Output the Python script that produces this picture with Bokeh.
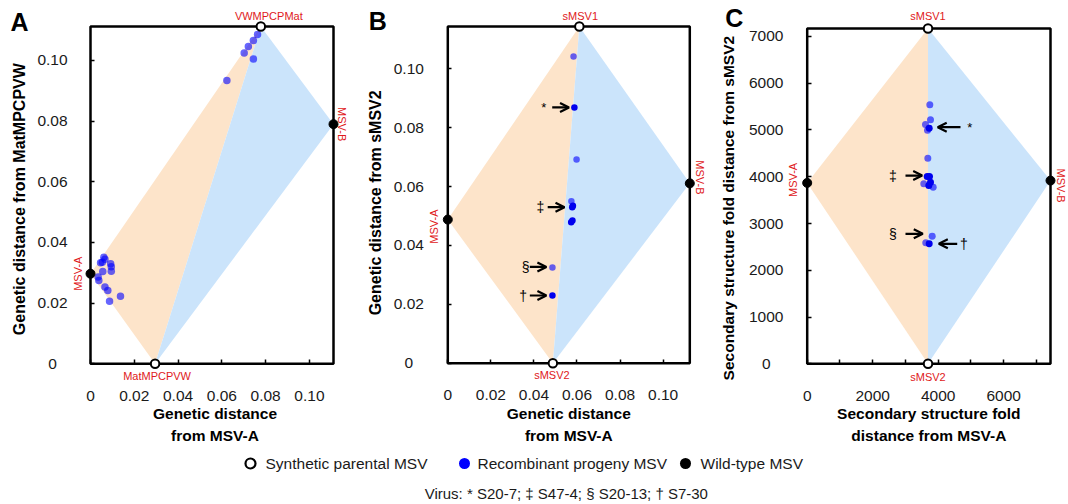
import math
from bokeh.plotting import figure
from bokeh.models import (Range1d, FixedTicker, Label, LabelSet, ColumnDataSource,
                          Arrow, OpenHead)
from bokeh.layouts import column, row
from bokeh.core.properties import value
from bokeh.embed import file_html
from bokeh.resources import INLINE

FONT = "Liberation Sans"
ORANGE = "#fde4ca"
LIGHTBLUE = "#cbe4fb"
RED = "#e0191b"
DOT = "#0000ff"

# ---------------- Panel A data ----------------
a_xmax, a_ymax = 0.111, 0.1112
a_node_x = [0.0, 0.1110, 0.0778, 0.0295]      # MSV-A, MSV-B, top parent, bottom parent
a_node_y = [0.0297, 0.0790, 0.1112, 0.0]
a_node_names = ["MSV-A", "MSV-B", "VWMPCPMat", "MatMPCPVW"]
a_pts_x = [0.0763, 0.0744, 0.0721, 0.0702, 0.0744, 0.0623, 0.0061, 0.0066, 0.0054, 0.0046,
           0.0092, 0.0095, 0.0056, 0.0035, 0.0038, 0.0066, 0.0079, 0.0137, 0.0087, 0.0095]
a_pts_y = [0.1086, 0.1066, 0.1046, 0.1025, 0.1005, 0.0934, 0.0351, 0.0345, 0.0335, 0.0333,
           0.0330, 0.0305, 0.0304, 0.0286, 0.0275, 0.0253, 0.0242, 0.0223, 0.0206, 0.0320]
a_pts_dark = [0] * 20
a_xticks = [0, 0.02, 0.04, 0.06, 0.08, 0.10]
a_xtick_labels = ["0", "0.02", "0.04", "0.06", "0.08", "0.10"]
a_yticks = [0, 0.02, 0.04, 0.06, 0.08, 0.10]
a_ytick_labels = ["0", "0.02", "0.04", "0.06", "0.08", "0.10"]
a_xlabel = ["Genetic distance", "from MSV-A"]
a_ylabel = "Genetic distance from MatMPCPVW"

# ---------------- Panel B data ----------------
b_xmax, b_ymax = 0.1124, 0.1144
b_node_x = [0.0, 0.1124, 0.0611, 0.0488]
b_node_y = [0.0488, 0.0611, 0.1144, 0.0]
b_node_names = ["MSV-A", "MSV-B", "sMSV1", "sMSV2"]
b_pts_x = [0.0584, 0.0588, 0.0598, 0.0574, 0.0578, 0.0581, 0.0573, 0.0579, 0.0486, 0.0486]
b_pts_y = [0.1042, 0.0869, 0.0692, 0.0550, 0.0530, 0.0535, 0.0479, 0.0485, 0.0325, 0.0230]
b_pts_dark = [0, 1, 0, 0, 1, 1, 1, 1, 0, 1]
b_xticks = [0, 0.02, 0.04, 0.06, 0.08, 0.10]
b_xtick_labels = ["0", "0.02", "0.04", "0.06", "0.08", "0.10"]
b_yticks = [0, 0.02, 0.04, 0.06, 0.08, 0.10]
b_ytick_labels = ["0", "0.02", "0.04", "0.06", "0.08", "0.10"]
b_xlabel = ["Genetic distance", "from MSV-A"]
b_ylabel = "Genetic distance from sMSV2"
# marked viruses: symbol, y, arrow start x, arrow end x, symbol x
b_mark_sym = ["*", "\u2021", "\u00a7", "\u2020"]
b_mark_y = [0.0869, 0.0530, 0.0327, 0.0230]
b_mark_x0 = [0.0485, 0.0464, 0.0381, 0.0381]
b_mark_x1 = [0.0563, 0.0542, 0.0458, 0.0458]
b_mark_tx = [0.0446, 0.0430, 0.0361, 0.0350]

# ---------------- Panel C data ----------------
c_xmax, c_ymax = 7431, 7170
c_node_x = [0.0, 7431, 3690, 3690]
c_node_y = [3868, 3918, 7170, 0.0]
c_node_names = ["MSV-A", "MSV-B", "sMSV1", "sMSV2"]
c_pts_x = [3745, 3766, 3613, 3726, 3674, 3684, 3665, 3735, 3561, 3766, 3714, 3848, 3818, 3622, 3726]
c_pts_y = [5538, 5217, 5117, 5037, 4995, 4396, 4005, 4005, 3849, 3883, 3812, 3776, 2728, 2587, 2566]
c_pts_dark = [0, 0, 0, 1, 0, 0, 1, 1, 0, 1, 1, 0, 0, 0, 1]
c_xticks = [0, 2000, 4000, 6000]
c_xminor = [1000, 3000, 5000, 7000]
c_xtick_labels = ["0", "2000", "4000", "6000"]
c_yticks = [0, 1000, 2000, 3000, 4000, 5000, 6000, 7000]
c_ytick_labels = ["0", "1000", "2000", "3000", "4000", "5000", "6000", "7000"]
c_xlabel = ["Secondary structure fold", "distance from MSV-A"]
c_ylabel = "Secondary structure fold distance from sMSV2"
c_mark_sym = ["*", "\u2021", "\u00a7", "\u2020"]
c_mark_y = [5059, 4026, 2780, 2566]
c_mark_x0 = [4682, 3002, 3002, 4582]
c_mark_x1 = [3986, 3512, 3530, 4020]
c_mark_tx = [4965, 2615, 2615, 4783]

legend_labels = ["Synthetic parental MSV", "Recombinant progeny MSV", "Wild-type MSV"]
virus_note = "Virus: * S20-7; \u2021 S47-4;  \u00a7  S20-13; \u2020 S7-30"

H = 444


def make_panel(fig_w, bl, bw, bt, bh, xmax, ymax):
    """Frame covers the whole canvas; the data box 0..xmax, 0..ymax sits at
    pixel rectangle (bl, bt, bw, bh) inside it."""
    u = xmax / bw
    v = ymax / bh
    p = figure(width=fig_w, height=H, output_backend="svg", toolbar_location=None, tools="",
               x_range=Range1d(-bl * u, (fig_w - bl) * u),
               y_range=Range1d(-(H - bt - bh) * v, ymax + bt * v),
               min_border=0)
    p.outline_line_color = None
    p.grid.visible = False
    p.background_fill_color = "white"
    p.border_fill_color = "white"
    return p


def style_axes(p, xticks, xlabels, yticks, ylabels, xminor=None, ytick_off=-38):
    p.xaxis.fixed_location = 0
    p.yaxis.fixed_location = 0
    p.xaxis.ticker = FixedTicker(ticks=xticks, minor_ticks=xminor or [])
    p.yaxis.ticker = FixedTicker(ticks=yticks, minor_ticks=[])
    p.xaxis.major_label_overrides = {t: s for t, s in zip(xticks, xlabels)}
    for ax in (p.xaxis, p.yaxis):
        ax.axis_line_color = None
        ax.major_tick_in = 4
        ax.major_tick_out = 0
        ax.minor_tick_in = 4
        ax.minor_tick_out = 0
        ax.major_tick_line_color = "black"
        ax.minor_tick_line_color = "black"
        ax.major_tick_line_width = 1.5
        ax.minor_tick_line_width = 1.5
    p.xaxis.major_label_text_font = FONT
    p.xaxis.major_label_text_font_size = "15.5px"
    p.xaxis.major_label_text_color = "#1a1a1a"
    p.xaxis.major_label_standoff = 27
    p.yaxis.major_label_text_color = None
    src = ColumnDataSource(dict(x=[0] * len(yticks), y=yticks, t=ylabels))
    p.add_layout(LabelSet(x="x", y="y", text="t", source=src, x_offset=ytick_off,
                          text_align="center", text_baseline="middle",
                          text_font=value(FONT), text_font_size=value("15.5px"),
                          text_color=value("#1a1a1a")))


def draw_content(p, xmax, ymax, nx, ny, px, py, dark, dot_size):
    p.patch([nx[0], nx[2], nx[3]], [ny[0], ny[2], ny[3]], fill_color=ORANGE, line_color=None)
    p.patch([nx[2], nx[1], nx[3]], [ny[2], ny[1], ny[3]], fill_color=LIGHTBLUE, line_color=None)
    p.quad(left=0, right=xmax, bottom=0, top=ymax, fill_color=None,
           line_color="black", line_width=2.5)
    lx = [x for x, d in zip(px, dark) if not d]
    ly = [y for y, d in zip(py, dark) if not d]
    dx = [x for x, d in zip(px, dark) if d]
    dy = [y for y, d in zip(py, dark) if d]
    p.scatter(lx, ly, size=dot_size, fill_color=DOT, fill_alpha=0.6, line_color=None)
    p.scatter(dx, dy, size=dot_size, fill_color="#0000ee", fill_alpha=1.0, line_color=None)
    p.scatter(nx[2:], ny[2:], size=8.5, fill_color="white", line_color="black", line_width=2)
    p.scatter(nx[:2], ny[:2], size=9, fill_color="black", line_color="black")


def node_labels(p, nx, ny, names, offs):
    for (x, y, n, (xo, yo, ang)) in zip(nx, ny, names, offs):
        p.add_layout(Label(x=x, y=y, text=n, x_offset=xo, y_offset=yo, angle=ang,
                           text_align="center", text_baseline="middle",
                           text_font=FONT, text_font_size="11px", text_color=RED))


def axis_titles(p, xmax, ymax, xlab, ylab, xl_dx, yl_dx, yl_dy, ysize, letter, let_dx, let_dy):
    for i, t in enumerate(xlab):
        p.add_layout(Label(x=xmax / 2, y=0, text=t, x_offset=xl_dx, y_offset=-50 - 22 * i,
                           text_align="center", text_baseline="middle", text_font=FONT,
                           text_font_size="15.5px", text_font_style="bold", text_color="black"))
    p.add_layout(Label(x=0, y=ymax / 2, text=ylab, x_offset=yl_dx, y_offset=yl_dy,
                       angle=math.pi / 2, text_align="center", text_baseline="middle",
                       text_font=FONT, text_font_size=ysize, text_font_style="bold",
                       text_color="black"))
    p.add_layout(Label(x=0, y=ymax, text=letter, x_offset=let_dx, y_offset=let_dy,
                       text_align="center", text_baseline="middle", text_font=FONT,
                       text_font_size="25px", text_font_style="bold", text_color="black"))


def marks(p, syms, ys, x0s, x1s, txs):
    for s, y, x0, x1, tx in zip(syms, ys, x0s, x1s, txs):
        p.add_layout(Arrow(end=OpenHead(size=9, line_width=2.2, line_color="black"),
                           x_start=x0, y_start=y, x_end=x1, y_end=y,
                           line_width=2.2, line_color="black"))
        p.add_layout(Label(x=tx, y=y, text=s, text_align="center", text_baseline="middle",
                           text_font=FONT, text_font_size="14px" if s != "*" else "13px",
                           text_color="black"))


HALF = math.pi / 2

# ---- Panel A ----
pA = make_panel(354, 90, 243, 26, 337.3, a_xmax, a_ymax)
style_axes(pA, a_xticks, a_xtick_labels, a_yticks, a_ytick_labels, ytick_off=-38)
draw_content(pA, a_xmax, a_ymax, a_node_x, a_node_y, a_pts_x, a_pts_y, a_pts_dark, 7.5)
node_labels(pA, a_node_x, a_node_y, a_node_names,
            [(-13, 0, HALF), (8, 0, -HALF), (8, 11, 0), (2, -12, 0)])
axis_titles(pA, a_xmax, a_ymax, a_xlabel, a_ylabel, 3, -71, -4, "16px", "A", -71, 5)

# ---- Panel B ----
pB = make_panel(352, 93.3, 242, 26, 336.7, b_xmax, b_ymax)
style_axes(pB, b_xticks, b_xtick_labels, b_yticks, b_ytick_labels, ytick_off=-39)
draw_content(pB, b_xmax, b_ymax, b_node_x, b_node_y, b_pts_x, b_pts_y, b_pts_dark, 6.5)
node_labels(pB, b_node_x, b_node_y, b_node_names,
            [(-14, -7, HALF), (10, 6, -HALF), (1, 11, 0), (-1, -12, 0)])
marks(pB, b_mark_sym, b_mark_y, b_mark_x0, b_mark_x1, b_mark_tx)
axis_titles(pB, b_xmax, b_ymax, b_xlabel, b_ylabel, 0, -72, -8, "16px", "B", -70, 6)

# ---- Panel C ----
pC = make_panel(362, 100.7, 243.3, 28, 335.3, c_xmax, c_ymax)
style_axes(pC, c_xticks, c_xtick_labels, c_yticks, c_ytick_labels, xminor=c_xminor, ytick_off=-41)
draw_content(pC, c_xmax, c_ymax, c_node_x, c_node_y, c_pts_x, c_pts_y, c_pts_dark, 7)
node_labels(pC, c_node_x, c_node_y, c_node_names,
            [(-14, 3, HALF), (10, -5, -HALF), (0, 13, 0), (0, -13, 0)])
marks(pC, c_mark_sym, c_mark_y, c_mark_x0, c_mark_x1, c_mark_tx)
axis_titles(pC, c_xmax, c_ymax, c_xlabel, c_ylabel, 0, -79, -12, "15.5px", "C", -73, 11)

# ---- Legend strip ----
lg = figure(width=1068, height=60, output_backend="svg", toolbar_location=None, tools="",
            x_range=Range1d(0, 1068), y_range=Range1d(60, 0), min_border=0,
            x_axis_type=None, y_axis_type=None)
lg.outline_line_color = None
lg.grid.visible = False
lg.scatter([250], [19], size=10, fill_color="white", line_color="black", line_width=2.2)
lg.scatter([464], [19], size=11, fill_color=DOT, line_color=None)
lg.scatter([685], [19], size=11, fill_color="black", line_color=None)
lg.text([265, 477, 700], [19, 19, 19], text=legend_labels, text_align="left",
        text_baseline="middle", text_font=value(FONT), text_font_size="15.5px",
        text_color="#1a1a1a")
lg.text([570], [49], text=[virus_note], text_align="center", text_baseline="middle",
        text_font=value(FONT), text_font_size="15px", text_color="#1a1a1a")

layout = column(row(pA, pB, pC), lg)
open("out.html", "w").write(file_html(layout, INLINE))
